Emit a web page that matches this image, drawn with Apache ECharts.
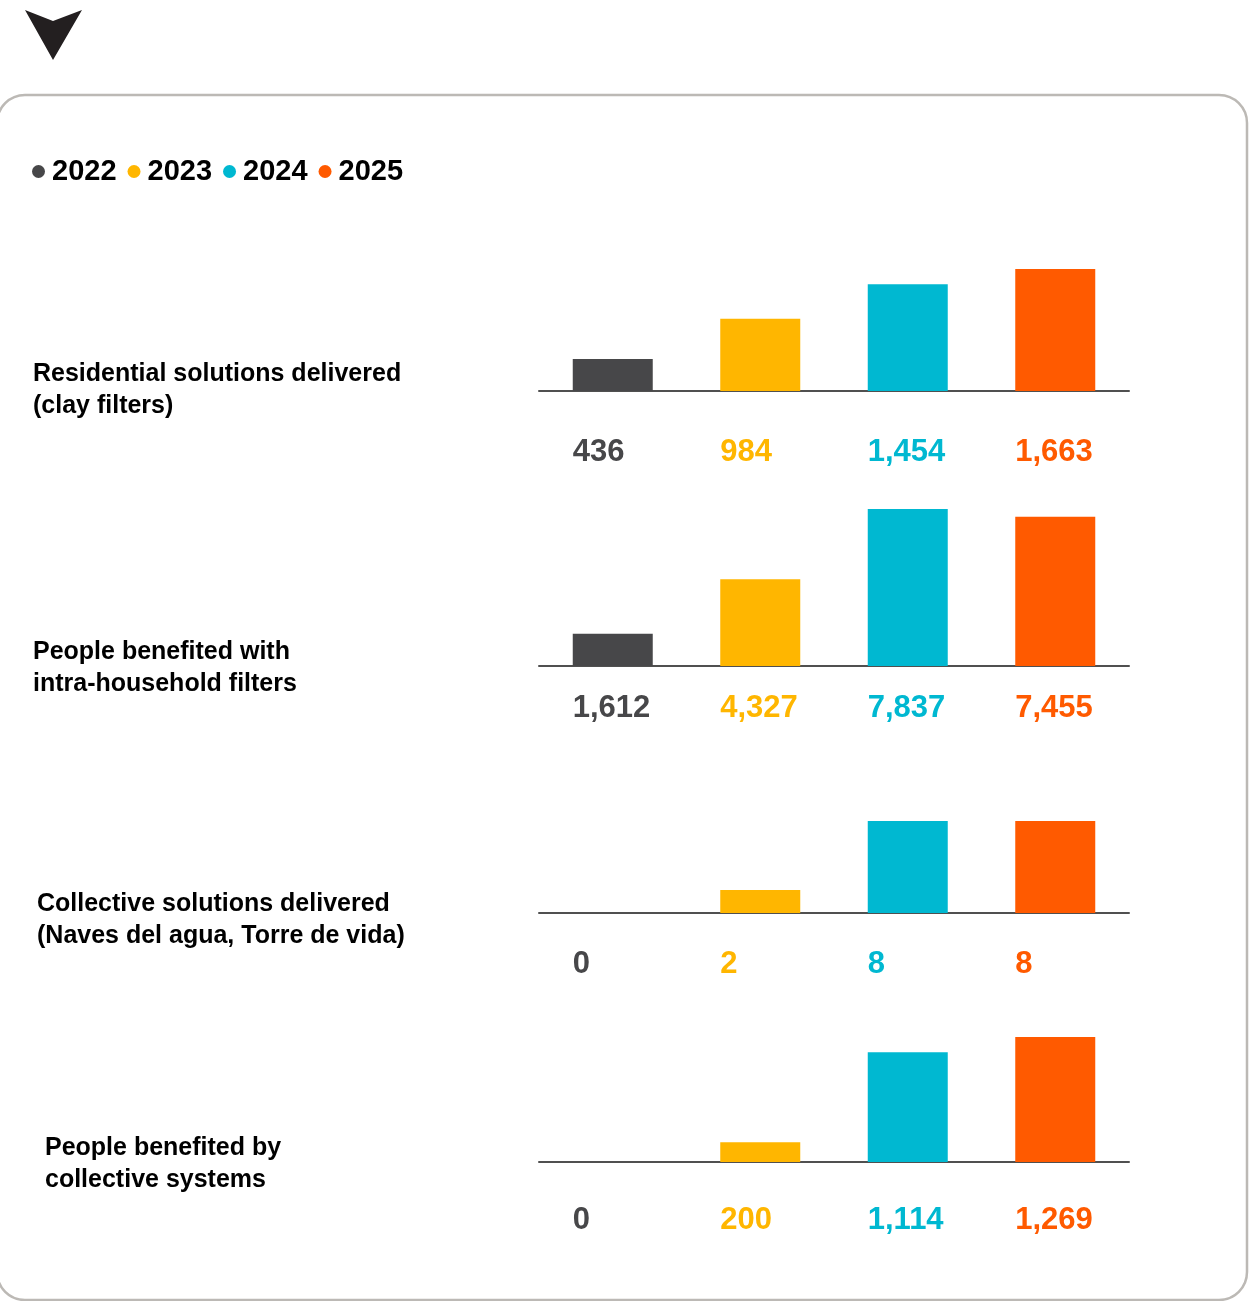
<!DOCTYPE html>
<html>
<head>
<meta charset="utf-8">
<title>Water solutions 2022–2025</title>
<script src="https://cdn.jsdelivr.net/npm/echarts@6/dist/echarts.min.js"></script>
<style>
  html, body { margin: 0; padding: 0; background: #ffffff; }
  #chart { width: 1251px; height: 1301px; }
</style>
</head>
<body>
<div id="chart"></div>
<script>
// Years and their colours
const years = ['2022', '2023', '2024', '2025'];
const yearColors = ['#474749', '#FFB600', '#00B8D1', '#FF5A00'];

// Indicator names (left-hand text of each row)
const panelTitles = [
  'Residential solutions delivered\n(clay filters)',
  'People benefited with\nintra-household filters',
  'Collective solutions delivered\n(Naves del agua, Torre de vida)',
  'People benefited by\ncollective systems'
];

// Values per indicator, one per year
const residentialSolutions = [436, 984, 1454, 1663];
const peopleIntraHousehold = [1612, 4327, 7837, 7455];
const collectiveSolutions = [0, 2, 8, 8];
const peopleCollective = [0, 200, 1114, 1269];

const panelValues = [residentialSolutions, peopleIntraHousehold, collectiveSolutions, peopleCollective];

// Row layout: plot top, plot height, value-label distance below the baseline, title placement
const rows = [
  { top: 269, height: 122, labelGap: 61, titleLeft: 33, titleTop: 358 },
  { top: 509, height: 157, labelGap: 42, titleLeft: 33, titleTop: 636 },
  { top: 821, height: 92,  labelGap: 51, titleLeft: 37, titleTop: 888 },
  { top: 1037, height: 125, labelGap: 58, titleLeft: 45, titleTop: 1132 }
];

const FONT = 'Liberation Sans';
const chart = echarts.init(document.getElementById('chart'), null, { renderer: 'canvas' });

const grids = [], xAxes = [], yAxes = [], series = [], titles = [];

rows.forEach((row, p) => {
  const values = panelValues[p];
  grids.push({ left: 539, width: 590, top: row.top, height: row.height });
  xAxes.push({
    type: 'category', gridIndex: p, data: years,
    axisLine: { lineStyle: { color: '#505050', width: 2 } },
    axisTick: { show: false }, axisLabel: { show: false }
  });
  yAxes.push({
    type: 'value', gridIndex: p, min: 0, max: Math.max(...values), show: false,
    splitLine: { show: false }
  });
  titles.push({
    text: panelTitles[p], left: row.titleLeft, top: row.titleTop, padding: 0,
    textStyle: { fontFamily: FONT, fontWeight: 'bold', fontSize: 25, lineHeight: 32, color: '#000' }
  });
  years.forEach((year, i) => {
    series.push({
      type: 'bar', name: year, xAxisIndex: p, yAxisIndex: p,
      data: values.map((v, j) => (j === i ? v : '-')),
      barWidth: 80, barGap: '-100%',
      itemStyle: { color: yearColors[i] },
      label: {
        show: true, position: 'bottom', distance: row.labelGap,
        align: 'left', verticalAlign: 'middle', offset: [-40, 0],
        fontFamily: FONT, fontWeight: 'bold', fontSize: 31, color: yearColors[i],
        formatter: (d) => Number(d.value).toLocaleString('en-US')
      },
      emphasis: { disabled: true },
      animation: false
    });
  });
});

chart.setOption({
  animation: false,
  title: titles,
  legend: {
    data: years, left: 27, top: 152, icon: 'circle',
    itemWidth: 13, itemHeight: 13, itemGap: 11,
    selectedMode: false,
    textStyle: { fontFamily: FONT, fontWeight: 'bold', fontSize: 29, color: '#000', padding: [0, 0, 0, 2] }
  },
  grid: grids,
  xAxis: xAxes,
  yAxis: yAxes,
  series: series,
  graphic: [
    {
      type: 'polygon', z: 10,
      shape: { points: [[25, 10], [53, 21], [82, 10], [53, 60]] },
      style: { fill: '#231f20' }
    },
    {
      type: 'rect', z: 0,
      shape: { x: -3, y: 95, width: 1250, height: 1205, r: 28 },
      style: { fill: 'none', stroke: '#bcb9b5', lineWidth: 2.5 }
    }
  ]
});
</script>
</body>
</html>
